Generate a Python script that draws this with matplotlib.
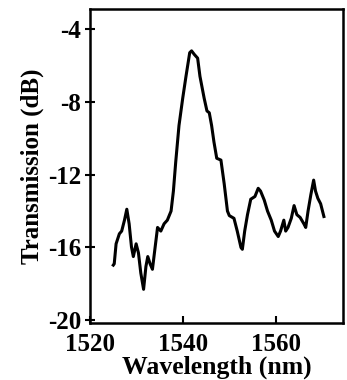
import matplotlib
matplotlib.use('Agg')
import matplotlib.pyplot as plt

# 数据
wavelength = [1525.0, 1525.2, 1525.6, 1526.3, 1526.8, 1527.4, 1527.9, 1528.4, 1528.9, 1529.3,
              1529.9, 1530.4, 1530.9, 1531.5, 1532.0, 1532.4, 1532.9, 1533.4, 1533.9, 1534.5,
              1535.2, 1535.9, 1536.6, 1537.4, 1537.9, 1538.4, 1539.1, 1539.9, 1540.6, 1541.4,
              1541.8, 1542.4, 1543.1, 1543.6, 1544.5, 1545.1, 1545.6, 1546.1, 1546.6, 1547.2,
              1548.1, 1548.8, 1549.5, 1549.9, 1550.9, 1551.6, 1552.4, 1552.7, 1553.2, 1553.8,
              1554.5, 1555.4, 1556.1, 1556.6, 1557.4, 1558.1, 1558.9, 1559.6, 1560.4, 1560.9,
              1561.6, 1562.0, 1562.5, 1563.2, 1563.8, 1564.4, 1565.1, 1565.9, 1566.3, 1566.8,
              1567.4, 1568.0, 1568.4, 1568.9, 1569.5, 1569.9, 1570.2]
transmission = [-16.97, -16.9, -15.8, -15.25, -15.1, -14.5, -13.9, -14.7, -15.97, -16.5,
                -15.8, -16.3, -17.4, -18.3, -17.05, -16.5, -16.9, -17.2, -16.15, -14.9,
                -15.1, -14.7, -14.5, -14.0, -12.9, -11.3, -9.3, -7.8, -6.6, -5.3,
                -5.2, -5.4, -5.6, -6.6, -7.8, -8.5, -8.6, -9.3, -10.2, -11.1,
                -11.2, -12.5, -14.0, -14.25, -14.4, -15.1, -16.0, -16.1, -15.1, -14.2,
                -13.35, -13.2, -12.75, -12.9, -13.4, -14.0, -14.5, -15.1, -15.4, -15.1,
                -14.5, -15.1, -14.9, -14.4, -13.7, -14.2, -14.35, -14.7, -14.9, -14.0,
                -13.1, -12.3, -12.9, -13.3, -13.6, -14.0, -14.3]

x_ticks = [1520, 1540, 1560]
y_ticks = [-4, -8, -12, -16, -20]

plt.rcParams['font.family'] = ['Liberation Serif', 'DejaVu Serif']
plt.rcParams['axes.unicode_minus'] = False

fig = plt.figure(figsize=(3.47, 3.80), dpi=100)
ax = fig.add_axes([90 / 347, 1 - 323 / 380, 253 / 347, 314 / 380])

ax.plot(wavelength, transmission, color='black', linewidth=2.2)

ax.set_xlim(1520.3, 1574.3)
ax.set_ylim(-20.15, -2.9)
ax.set_xticks(x_ticks)
ax.set_yticks(y_ticks)
ax.tick_params(axis='x', direction='in', length=5, width=1.5, labelsize=18, pad=7)
ax.tick_params(axis='y', direction='inout', length=7, width=1.5, labelsize=18, pad=3)
for lab in ax.get_xticklabels() + ax.get_yticklabels():
    lab.set_fontweight('bold')
for s in ax.spines.values():
    s.set_linewidth(1.8)

ax.set_xlabel('Wavelength (nm)', fontsize=18.5, fontweight='bold', labelpad=0)
ax.set_ylabel('Transmission (dB)', fontsize=18, fontweight='bold', labelpad=3)

plt.savefig('out.png', dpi=100)
plt.close()
